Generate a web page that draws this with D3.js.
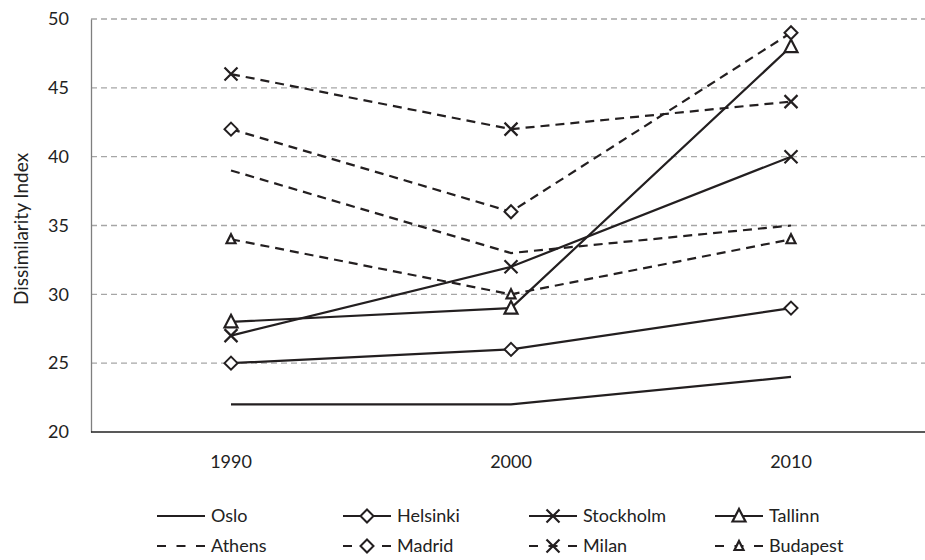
<!DOCTYPE html>
<html><head><meta charset="utf-8">
<script src="https://cdn.jsdelivr.net/npm/d3@7"></script>
<style>body{margin:0;background:#fff}svg{display:block}text{font-family:Lato,"Open Sans",sans-serif;fill:#222}</style>
</head><body><div id="chart"></div>
<script>
const years = ["1990","2000","2010"];
const yTicks = [20,25,30,35,40,45,50];
const oslo = [22,22,24];
const helsinki = [25,26,29];
const stockholm = [27,32,40];
const tallinn = [28,29,48];
const athens = [39,33,35];
const madrid = [42,36,49];
const milan = [46,42,44];
const budapest = [34,30,34];
const seriesNames = ["Oslo","Helsinki","Stockholm","Tallinn","Athens","Madrid","Milan","Budapest"];
const seriesValues = [oslo,helsinki,stockholm,tallinn,athens,madrid,milan,budapest];
const seriesMarker = ["none","diamond","x","triangle","none","diamond","x","smalltri"];
const seriesDashed = [false,false,false,false,true,true,true,true];

const W=925,H=560;
const svg=d3.select("#chart").append("svg").attr("width",W).attr("height",H);
const x=d3.scaleBand().domain(years).range([91,931]);
const y=d3.scaleLinear().domain([20,50]).range([432,19]);
const col="#231f20";

// gridlines
svg.append("g").selectAll("line").data(yTicks.filter(d=>d>20)).join("line")
  .attr("x1",91).attr("x2",W).attr("y1",d=>y(d)).attr("y2",d=>y(d))
  .attr("stroke","#a6a6a6").attr("stroke-width",1.3).attr("stroke-dasharray","6,4");

// axes
const yAxis=svg.append("g").attr("transform","translate(91,0)")
  .call(d3.axisLeft(y).tickValues(yTicks).tickSize(0).tickPadding(22));
yAxis.select(".domain").attr("stroke","#7f7f7f").attr("stroke-width",1.3);
yAxis.selectAll("text").style("font-size","18px").attr("fill","#222");
const xAxis=svg.append("g").attr("transform","translate(0,432)")
  .call(d3.axisBottom(x).tickSize(0).tickPadding(23));
xAxis.select(".domain").attr("stroke","#222").attr("stroke-width",1.5).attr("d","M91,0H"+W);
xAxis.selectAll("text").style("font-size","18px").attr("fill","#222");

svg.append("text").attr("transform","translate(20,229) rotate(-90)")
  .attr("text-anchor","middle").attr("dominant-baseline","central")
  .style("font-size","19px").text("Dissimilarity Index");

function drawMarker(g,type,cx,cy){
  if(type==="diamond"){
    g.append("path").attr("d",`M${cx},${cy-6.5}L${cx+6.5},${cy}L${cx},${cy+6.5}L${cx-6.5},${cy}Z`)
      .attr("fill","#fff").attr("stroke",col).attr("stroke-width",2);
  } else if(type==="x"){
    g.append("path").attr("d",`M${cx-6.5},${cy-6.5}L${cx+6.5},${cy+6.5}M${cx-6.5},${cy+6.5}L${cx+6.5},${cy-6.5}`)
      .attr("fill","none").attr("stroke",col).attr("stroke-width",2.2);
  } else if(type==="triangle"){
    g.append("path").attr("d",`M${cx},${cy-7}L${cx+6.5},${cy+5.5}L${cx-6.5},${cy+5.5}Z`)
      .attr("fill","#fff").attr("stroke",col).attr("stroke-width",2.2);
  } else if(type==="smalltri"){
    g.append("path").attr("d",`M${cx},${cy-5}L${cx+4.5},${cy+4}L${cx-4.5},${cy+4}Z`)
      .attr("fill","#fff").attr("stroke",col).attr("stroke-width",2.2);
  }
}

const line=d3.line().x((d,i)=>x(years[i])+x.bandwidth()/2).y(d=>y(d));
seriesValues.forEach((vals,si)=>{
  const g=svg.append("g");
  g.append("path").attr("d",line(vals)).attr("fill","none").attr("stroke",col)
    .attr("stroke-width",2.2).attr("stroke-dasharray",seriesDashed[si]?"9,6":null);
  vals.forEach((v,i)=>drawMarker(g,seriesMarker[si],x(years[i])+x.bandwidth()/2,y(v)));
});

// legend
const legX=[157,343,529,715];
const legY=[516,546];
seriesNames.forEach((n,i)=>{
  const cx=legX[i%4], cy=legY[Math.floor(i/4)];
  const g=svg.append("g");
  g.append("line").attr("x1",cx).attr("x2",cx+48).attr("y1",cy).attr("y2",cy)
    .attr("stroke",col).attr("stroke-width",2.2).attr("stroke-dasharray",seriesDashed[i]?"9,10.5":null);
  drawMarker(g,seriesMarker[i],cx+24,cy);
  g.append("text").attr("x",cx+54).attr("y",cy).attr("dy","0.35em").style("font-size","18px").text(n);
});
</script></body></html>
